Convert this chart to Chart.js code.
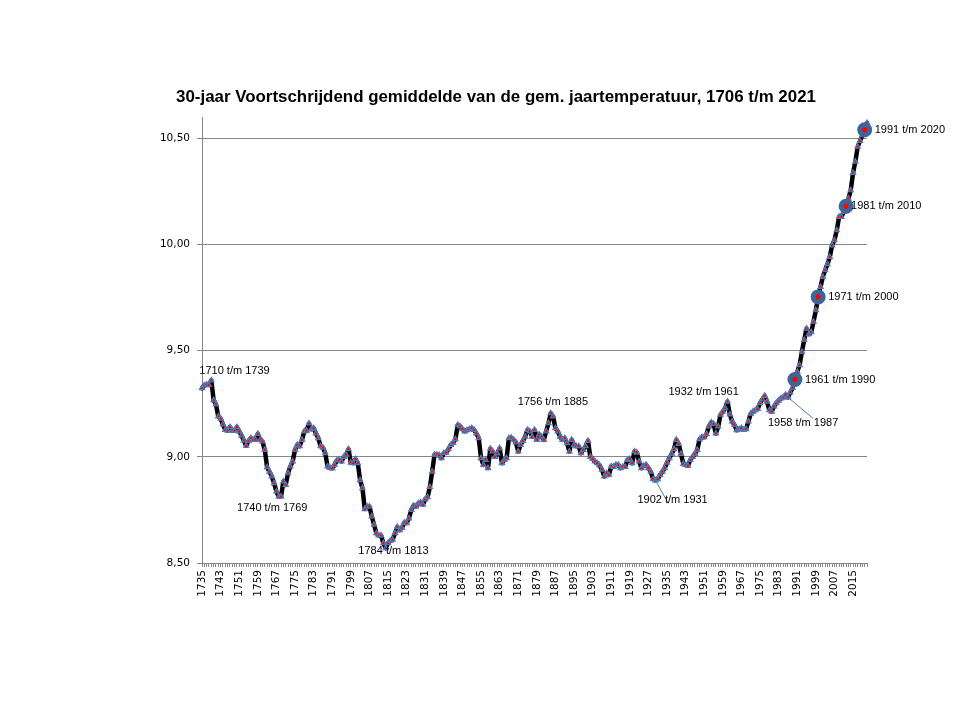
<!DOCTYPE html>
<html>
<head>
<meta charset="utf-8">
<title>30-jaar voortschrijdend gemiddelde</title>
<script src="https://cdn.jsdelivr.net/npm/chart.js@4.4.1/dist/chart.umd.min.js"></script>
<style>
  html, body { margin: 0; padding: 0; background: #fff; }
</style>
</head>
<body>
<canvas id="tempChart" width="960" height="720"></canvas>
<script>
// 30-year moving average, one value per end year (1735 .. 2021)
const firstYear = 1735;
const tempAvg = [
    9.323, 9.336, 9.340, 9.338, 9.360, 9.267, 9.247, 9.190, 9.180, 9.153,
    9.127, 9.124, 9.140, 9.123, 9.124, 9.140, 9.120, 9.100, 9.077, 9.052,
    9.075, 9.088, 9.080, 9.080, 9.108, 9.080, 9.072, 9.033, 8.951, 8.930,
    8.908, 8.876, 8.837, 8.813, 8.813, 8.884, 8.868, 8.923, 8.955, 8.978,
    9.033, 9.056, 9.050, 9.080, 9.120, 9.123, 9.157, 9.130, 9.135, 9.110,
    9.088, 9.050, 9.043, 9.017, 8.955, 8.948, 8.946, 8.962, 8.983, 8.986,
    8.978, 9.000, 9.010, 9.036, 8.973, 8.970, 8.989, 8.970, 8.890, 8.853,
    8.754, 8.766, 8.766, 8.720, 8.680, 8.640, 8.630, 8.630, 8.593, 8.570,
    8.593, 8.605, 8.610, 8.640, 8.670, 8.655, 8.665, 8.690, 8.688, 8.710,
    8.750, 8.770, 8.766, 8.780, 8.785, 8.775, 8.800, 8.810, 8.858, 8.930,
    9.010, 9.010, 9.008, 8.994, 9.017, 9.020, 9.036, 9.056, 9.066, 9.083,
    9.150, 9.143, 9.130, 9.120, 9.125, 9.130, 9.135, 9.127, 9.110, 9.088,
    8.994, 8.962, 8.986, 8.947, 9.038, 9.025, 9.000, 9.016, 9.040, 8.970,
    8.986, 8.994, 9.088, 9.090, 9.080, 9.068, 9.025, 9.056, 9.075, 9.095,
    9.127, 9.120, 9.095, 9.127, 9.080, 9.105, 9.095, 9.080, 9.120, 9.158,
    9.205, 9.190, 9.135, 9.120, 9.095, 9.080, 9.088, 9.064, 9.025, 9.080,
    9.056, 9.050, 9.050, 9.017, 9.033, 9.050, 9.075, 9.000, 8.990, 8.978,
    8.970, 8.960, 8.940, 8.908, 8.923, 8.915, 8.955, 8.953, 8.962, 8.962,
    8.947, 8.953, 8.953, 8.986, 8.990, 8.970, 9.025, 9.020, 8.978, 8.947,
    8.958, 8.962, 8.947, 8.930, 8.895, 8.889, 8.895, 8.915, 8.930, 8.947,
    8.973, 8.994, 9.014, 9.036, 9.080, 9.061, 9.014, 8.967, 8.962, 8.958,
    8.986, 9.000, 9.014, 9.033, 9.083, 9.092, 9.092, 9.108, 9.143, 9.162,
    9.155, 9.110, 9.143, 9.198, 9.213, 9.229, 9.260, 9.200, 9.167, 9.150,
    9.125, 9.130, 9.135, 9.127, 9.130, 9.167, 9.203, 9.213, 9.220, 9.225,
    9.253, 9.270, 9.287, 9.260, 9.220, 9.213, 9.237, 9.253, 9.265, 9.275,
    9.280, 9.292, 9.280, 9.303, 9.324, 9.364, 9.400, 9.432, 9.494, 9.550,
    9.604, 9.578, 9.587, 9.636, 9.690, 9.753, 9.800, 9.847, 9.879, 9.907,
    9.941, 9.996, 10.020, 10.067, 10.130, 10.130, 10.153, 10.180, 10.216, 10.255,
    10.337, 10.390, 10.460, 10.487, 10.514, 10.540, 10.572
];
const yTicks = [8.5, 9.0, 9.5, 10.0, 10.5];
const labelStep = 8;

// big round markers
const highlightYears = [1990, 2000, 2012, 2020];

// text notes next to the line
const noteYears = [1739, 1769, 1813, 1885, 1930, 1961, 1987, 1990, 2000, 2012, 2020];
const noteTexts = [
    '1710 t/m 1739', '1740 t/m 1769', '1784 t/m 1813', '1756 t/m 1885',
    '1902 t/m 1931', '1932 t/m 1961', '1958 t/m 1987', '1961 t/m 1990',
    '1971 t/m 2000', '1981 t/m 2010', '1991 t/m 2020'
];

const chartTitle = '30-jaar Voortschrijdend gemiddelde van de gem. jaartemperatuur, 1706 t/m 2021';

const years = tempAvg.map(function (v, i) { return String(firstYear + i); });
const highlightData = tempAvg.map(function (v, i) {
    return highlightYears.indexOf(firstYear + i) >= 0 ? v : null;
});

// offsets of each note from its point: [dx, dy, leaderDx, leaderDy]
const noteOffsets = [
    [-12, -9], [-44, 11], [-25, 8], [-33, -11], [-18, 20, 13, 23],
    [-59, -10], [-20, 26, 25, 21], [10, 0], [10, 0], [5, 0], [10, 0]
];

const notesPlugin = {
    id: 'notes',
    afterDraw: function (chart) {
        const ctx = chart.ctx;
        const xScale = chart.scales.x;
        const yScale = chart.scales.y;

        ctx.save();
        noteYears.forEach(function (year, n) {
            const idx = year - firstYear;
            const px = xScale.getPixelForValue(idx);
            const py = yScale.getPixelForValue(tempAvg[idx]);
            const off = noteOffsets[n];

            if (off.length > 2) {
                ctx.strokeStyle = '#4a7ebb';
                ctx.lineWidth = 1;
                ctx.beginPath();
                ctx.moveTo(px, py);
                ctx.lineTo(px + off[2], py + off[3]);
                ctx.stroke();
            }

            ctx.fillStyle = '#000';
            ctx.font = '11px "Liberation Sans", Arial, sans-serif';
            ctx.textAlign = 'left';
            ctx.textBaseline = 'middle';
            ctx.fillText(noteTexts[n], px + off[0], py + off[1]);
        });

        ctx.font = 'bold 16.9px "Liberation Sans", Arial, sans-serif';
        ctx.textAlign = 'center';
        ctx.textBaseline = 'middle';
        ctx.fillStyle = '#000';
        ctx.fillText(chartTitle, 496, 97);
        ctx.restore();
    }
};

const ctx = document.getElementById('tempChart').getContext('2d');

new Chart(ctx, {
    type: 'line',
    data: {
        labels: years,
        datasets: [{
            label: 'markering',
            data: highlightData,
            showLine: false,
            pointStyle: 'circle',
            pointRadius: 5,
            pointBorderWidth: 5,
            pointBorderColor: '#3d6698',
            pointBackgroundColor: '#ff0000',
            order: 0
        }, {
            label: '30-jaar gemiddelde',
            data: tempAvg,
            borderColor: '#000000',
            borderWidth: 4.5,
            borderJoinStyle: 'round',
            borderCapStyle: 'round',
            tension: 0,
            pointStyle: 'triangle',
            pointRadius: 3,
            pointBorderWidth: 1.2,
            pointBorderColor: '#4a7ebb',
            pointBackgroundColor: '#ff0000',
            order: 1
        }]
    },
    options: {
        responsive: false,
        animation: false,
        devicePixelRatio: 1,
        layout: {
            padding: { top: 117, right: 93, bottom: 0, left: 0 }
        },
        plugins: {
            legend: { display: false },
            tooltip: { enabled: false },
            title: { display: false }
        },
        scales: {
            x: {
                type: 'category',
                offset: false,
                grid: { drawOnChartArea: false, drawTicks: true, tickLength: 4, color: '#868686' },
                border: { color: '#868686' },
                ticks: {
                    autoSkip: false,
                    maxRotation: 90,
                    minRotation: 90,
                    padding: 3,
                    color: '#000',
                    font: { family: 'DejaVu Sans', size: 10.5 },
                    callback: function (value, index) {
                        return index % labelStep === 0 ? years[index] : '';
                    }
                },
                afterFit: function (scale) { scale.height = 157; }
            },
            y: {
                min: 8.5,
                max: 10.6,
                grid: { color: '#868686', tickLength: 5 },
                border: { color: '#868686' },
                ticks: {
                    padding: 7,
                    color: '#000',
                    font: { family: 'DejaVu Sans', size: 10.5 },
                    callback: function (value) {
                        return Number(value).toFixed(2).replace('.', ',');
                    }
                },
                afterBuildTicks: function (scale) {
                    scale.ticks = yTicks.map(function (v) { return { value: v }; });
                },
                afterFit: function (scale) { scale.width = 202; }
            }
        }
    },
    plugins: [notesPlugin]
});
</script>
</body>
</html>
